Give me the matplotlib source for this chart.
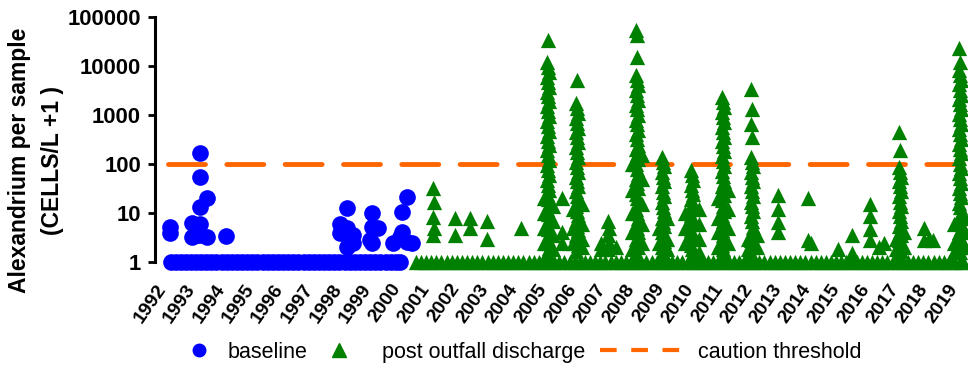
import matplotlib
matplotlib.use("Agg")
import matplotlib.pyplot as plt
from matplotlib.lines import Line2D
from matplotlib.ticker import NullLocator

plt.rcParams["font.family"] = ["Liberation Sans", "DejaVu Sans"]

# ---- data (Alexandrium, cells/L + 1, decimal year of sample) ----
# non-detects (0 cells/L -> plotted at 0 + 1)
baseline_nd_dates = [
    1992.27, 1992.45, 1992.62, 1992.80, 1992.95,
    1993.12, 1993.30, 1993.48, 1993.65, 1993.82,
    1994.00, 1994.18, 1994.35, 1994.52, 1994.70, 1994.88,
    1995.05, 1995.22, 1995.40, 1995.58, 1995.75, 1995.92,
    1996.10, 1996.28, 1996.45, 1996.62, 1996.80, 1996.97,
    1997.15, 1997.32, 1997.50, 1997.68, 1997.85,
    1998.02, 1998.20, 1998.38, 1998.55, 1998.72, 1998.90,
    1999.08, 1999.25, 1999.42, 1999.60, 1999.78, 1999.95, 2000.10,
]
post_nd_dates = [
    2000.63, 2000.80, 2000.97,
    2001.15, 2001.32, 2001.50, 2001.68, 2001.85,
    2002.02, 2002.20, 2002.38, 2002.55, 2002.72, 2002.90,
    2003.08, 2003.25, 2003.42, 2003.60, 2003.78, 2003.95,
    2004.12, 2004.30, 2004.48, 2004.65, 2004.82,
    2005.00, 2005.18, 2005.35, 2005.52, 2005.70, 2005.88,
    2006.05, 2006.22, 2006.40, 2006.58, 2006.75, 2006.92,
    2007.10, 2007.28, 2007.45, 2007.62, 2007.80, 2007.98,
    2008.15, 2008.32, 2008.50, 2008.68, 2008.85,
    2009.02, 2009.20, 2009.38, 2009.55, 2009.72, 2009.90,
    2010.08, 2010.25, 2010.42, 2010.60, 2010.78, 2010.95,
    2011.12, 2011.30, 2011.48, 2011.65, 2011.82,
    2012.00, 2012.18, 2012.35, 2012.52, 2012.70, 2012.88,
    2013.05, 2013.22, 2013.40, 2013.58, 2013.75, 2013.92,
    2014.10, 2014.28, 2014.45, 2014.62, 2014.80, 2014.98,
    2015.15, 2015.32, 2015.50, 2015.68, 2015.85,
    2016.02, 2016.20, 2016.38, 2016.55, 2016.72, 2016.90,
    2017.08, 2017.25, 2017.42, 2017.60, 2017.78, 2017.95,
    2018.12, 2018.30, 2018.48, 2018.65, 2018.82,
    2019.00, 2019.18, 2019.30,
]

# detections: one entry per sampling date, list of samples on that date
baseline_dates = [
    1992.24, 1992.99, 1993.16, 1993.26, 1993.50, 1994.15,
    1998.04, 1998.28, 1998.48, 1999.06, 1999.13, 1999.34, 1999.85,
    2000.09, 2000.16, 2000.33, 2000.50,
]
baseline_cells = [
    [5.2, 3.9], [6.2, 3.3], [3.5], [166, 54, 13, 6, 3.5], [20, 3.3], [3.4],
    [6, 3.9], [12.6, 5, 3.5, 2], [2.5, 3.5], [2.8], [10, 5.2, 2.4], [5], [2.4],
    [3.3], [10.5, 4.1], [21, 2.6], [2.4],
]

post_dates = [
    # 2001-2004
    2001.20, 2001.26, 2001.97, 2002.48, 2003.06, 2004.22,
    # 2005 bloom
    2005.10, 2005.14, 2005.18, 2005.00, 2005.30, 2005.62,
    # 2006 bloom
    2006.09, 2006.13, 2006.17, 2005.98, 2006.30,
    # 2007
    2006.95, 2007.17, 2007.22, 2007.45,
    # 2008 bloom
    2008.14, 2008.18, 2008.22, 2008.02, 2008.34,
    # 2009
    2009.02, 2009.06, 2009.10, 2008.92, 2009.20,
    # 2010
    2010.01, 2010.05, 2010.09, 2009.82, 2010.28,
    # 2011
    2011.07, 2011.11, 2011.15, 2010.95, 2011.27,
    # 2012
    2012.06, 2012.10, 2012.14, 2011.97, 2012.26,
    # 2013-2016
    2012.99, 2014.02, 2014.10, 2015.04, 2015.52,
    2016.13, 2016.45, 2016.62,
    # 2017
    2017.11, 2017.15, 2017.19, 2017.00, 2017.30,
    # 2018
    2017.97, 2018.15, 2018.28,
    # 2019 bloom
    2019.16, 2019.20, 2019.24, 2018.98, 2019.36,
]
post_cells = [
    [32, 8.3, 3.5], [17, 5], [8, 3.5], [8, 5], [7, 3], [5],

    [12000, 6000, 3000, 1500, 750, 380, 190, 95, 48, 24, 12, 6, 3, 1.5],
    [34000, 9500, 4800, 2400, 1200, 600, 300, 150, 75, 38, 19, 9.5, 4.8, 2.4],
    [7500, 3800, 1900, 950, 480, 240, 120, 60, 30, 15, 7.5, 3.8, 1.9],
    [20, 10, 5, 2.5], [14, 7, 3.5, 1.8], [20, 4, 2.5],

    [1750, 880, 440, 220, 110, 55, 28, 14, 7, 3.5, 1.7],
    [5200, 1400, 700, 350, 175, 88, 44, 22, 11, 5.5, 2.8],
    [1100, 550, 280, 140, 70, 35, 18, 9, 4.5, 2.2],
    [12, 5, 2.5], [15, 6, 3, 2],

    [2.5, 1.8], [7, 3.5, 1.8], [5, 2.5], [2],

    [55000, 6500, 3200, 1600, 800, 400, 200, 100, 50, 25, 12, 6, 3, 1.5],
    [42000, 15000, 5200, 2600, 1300, 650, 320, 160, 80, 40, 20, 10, 5, 2.5],
    [4100, 2000, 1000, 500, 250, 125, 63, 32, 16, 8, 4, 2],
    [100, 30, 10, 4, 1.8], [150, 50, 15, 6, 2.5],

    [140, 70, 35, 17, 8, 4, 2],
    [110, 55, 27, 13, 6.5, 3.2, 1.6],
    [90, 44, 22, 11, 5.5, 2.7],
    [5, 2.5], [8, 3, 1.8],

    [75, 38, 19, 9, 4.5, 2.2],
    [60, 30, 15, 7.5, 3.7, 1.8],
    [48, 24, 12, 6, 3, 1.5],
    [10, 5, 2.5], [12, 6, 3, 1.6],

    [2300, 1150, 580, 290, 145, 72, 36, 18, 9, 4.5, 2.2],
    [1800, 900, 450, 230, 115, 58, 29, 14, 7, 3.5, 1.8],
    [1450, 720, 360, 180, 90, 45, 23, 11, 5.5, 2.8, 1.4],
    [20, 8, 4, 2], [30, 12, 5, 2.5],

    [3400, 660, 140, 70, 35, 17, 8.5, 2.8, 1.5],
    [1330, 360, 110, 55, 28, 14, 7, 3.5, 2],
    [90, 44, 22, 11, 5.2, 2.4],
    [3, 1.8], [3.5, 2],

    [23, 12, 6.5, 4], [20, 2.8], [2.5], [1.8], [3.6, 1.5],
    [15, 8.5, 4.7, 2.8], [2], [2.5],

    [450, 87, 44, 22, 11, 5.5, 2.8, 1.4],
    [190, 70, 35, 17, 8.5, 4.2, 2.1],
    [55, 28, 14, 7, 3.5, 1.7],
    [3, 1.8], [4, 2],

    [4.9, 2.8], [3], [2.8],

    [23000, 8300, 4200, 2100, 1050, 520, 260, 130, 65, 33, 16, 8, 4, 2],
    [12000, 6600, 3300, 1650, 820, 410, 205, 100, 52, 26, 13, 6.5, 3.2, 1.6],
    [5200, 2600, 1300, 650, 330, 165, 82, 41, 21, 10, 5, 2.5],
    [6, 2.5, 1.6], [8, 4, 2],
]

threshold = 100
threshold_span = [1992.17, 2019.40]
years = list(range(1992, 2020))

# ---- flatten ----
b_x = [d for d, vals in zip(baseline_dates, baseline_cells) for _ in vals]
b_y = [v for vals in baseline_cells for v in vals]
p_x = [d for d, vals in zip(post_dates, post_cells) for _ in vals]
p_y = [v for vals in post_cells for v in vals]

BLUE = "#0000FF"
GREEN = "#008000"
ORANGE = "#FF6600"

fig = plt.figure(figsize=(9.68, 3.69), dpi=100)
ax = fig.add_axes([155 / 968, 107 / 369, 813 / 968, 245 / 369])

ax.scatter(baseline_nd_dates, [0 + 1] * len(baseline_nd_dates), s=144,
           marker="o", c=BLUE, linewidths=0, zorder=2, clip_on=False)
ax.scatter(b_x, b_y, s=144, marker="o", c=BLUE, linewidths=0, zorder=2,
           clip_on=False)
ax.scatter(post_nd_dates, [0 + 1] * len(post_nd_dates), s=121,
           marker="^", c=GREEN, linewidths=0, zorder=3, clip_on=False)
ax.scatter(p_x, p_y, s=121, marker="^", c=GREEN, linewidths=0, zorder=3,
           clip_on=False)
ax.plot(threshold_span, [threshold, threshold], color=ORANGE, lw=3.5,
        dashes=(7.6, 4.4), dash_capstyle="round", zorder=1)

ax.set_yscale("log")
ax.set_ylim(1, 100000)
ax.set_xlim(1991.73, 2019.47)
ax.set_yticks([1, 10, 100, 1000, 10000, 100000])
ax.set_yticklabels(["1", "10", "100", "1000", "10000", "100000"])
ax.yaxis.set_minor_locator(NullLocator())
ax.tick_params(axis="y", labelsize=15.8, width=2, length=5, pad=5)
for lab in ax.get_yticklabels():
    lab.set_fontweight("bold")

ax.set_xticks(years)
ax.set_xticklabels([str(y) for y in years])
ax.tick_params(axis="x", length=0, labelsize=14, pad=17)
plt.setp(ax.get_xticklabels(), rotation=55, ha="right", va="center",
         rotation_mode="anchor", fontweight="bold")

for s in ("top", "right", "bottom"):
    ax.spines[s].set_visible(False)
ax.spines["left"].set_linewidth(2.2)

ax.set_ylabel("Alexandrium per sample\n(CELLS/L +1 )", fontsize=16.5,
              fontweight="bold", linespacing=1.55)
ax.yaxis.set_label_coords(-0.112, 0.416)

# legend: three single-entry legends so each handle can have its own length
legend_specs = [
    (Line2D([], [], ls="none", marker="o", color=BLUE, markersize=9),
     "baseline", 1.8, 0.42, 180 / 968),
    (Line2D([], [], ls="none", marker="^", color=GREEN, markersize=10),
     "post outfall discharge", 3.1, 0.42, 306 / 968),
    (Line2D([], [], color=ORANGE, lw=3, dashes=(4, 3.5), dash_capstyle="butt"),
     "caution threshold", 3.7, 0.84, 600 / 968),
]
for handle, text, hlen, hpad, x0 in legend_specs:
    leg = fig.legend([handle], [text], loc="center left",
                     bbox_to_anchor=(x0, 0.046), frameon=False,
                     fontsize=15.5, handlelength=hlen, handletextpad=hpad,
                     borderpad=0, borderaxespad=0)

fig.savefig("out.png", dpi=100)
